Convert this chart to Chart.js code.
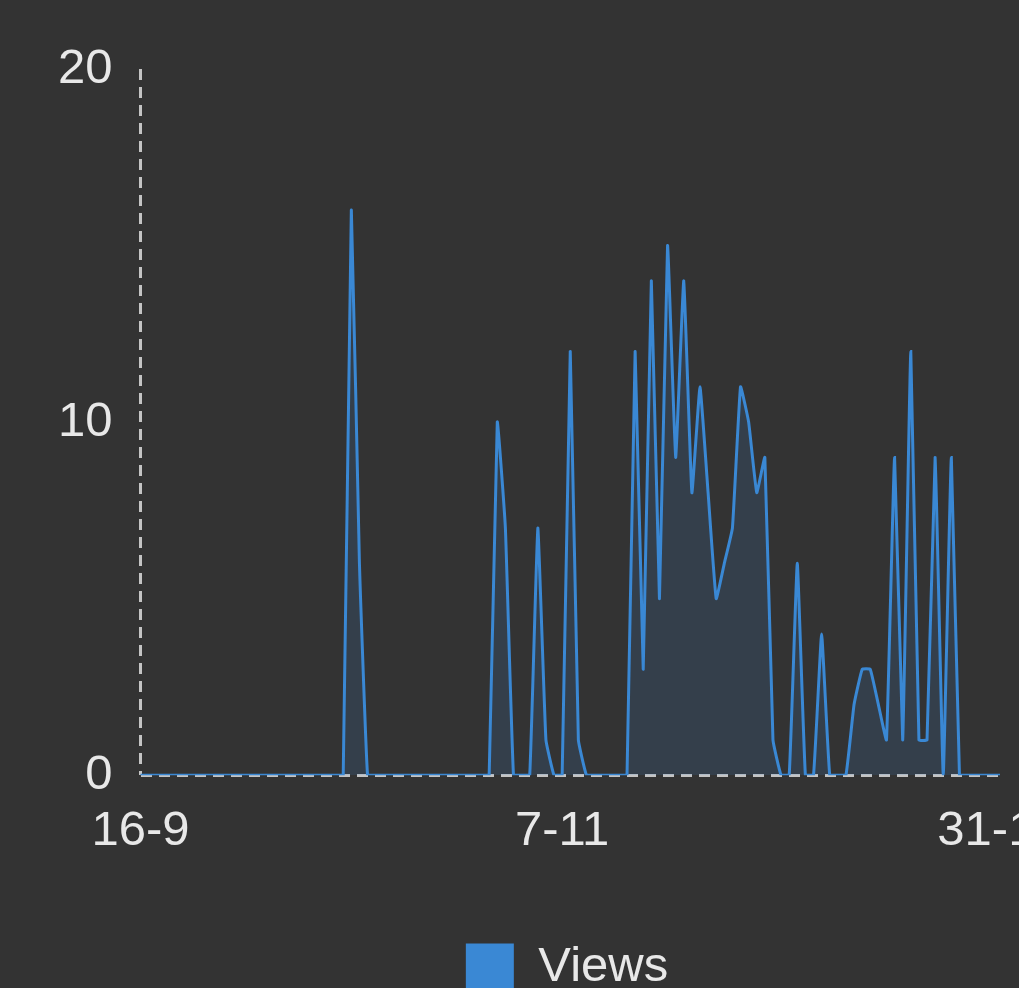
<!DOCTYPE html>
<html>
<head>
<meta charset="utf-8">
<script src="https://cdn.jsdelivr.net/npm/chart.js@4.4.1/dist/chart.umd.min.js"></script>
<style>
  html, body { margin: 0; padding: 0; background: #333333; overflow: hidden; }
</style>
</head>
<body>
<canvas id="chart" width="1156" height="1005"></canvas>
<script>
// day labels, 16-9 .. 31-12
const days = [
  '16-9','17-9','18-9','19-9','20-9','21-9','22-9','23-9','24-9','25-9','26-9','27-9','28-9','29-9','30-9',
  '1-10','2-10','3-10','4-10','5-10','6-10','7-10','8-10','9-10','10-10','11-10','12-10','13-10','14-10','15-10',
  '16-10','17-10','18-10','19-10','20-10','21-10','22-10','23-10','24-10','25-10','26-10','27-10','28-10','29-10','30-10','31-10',
  '1-11','2-11','3-11','4-11','5-11','6-11','7-11','8-11','9-11','10-11','11-11','12-11','13-11','14-11','15-11',
  '16-11','17-11','18-11','19-11','20-11','21-11','22-11','23-11','24-11','25-11','26-11','27-11','28-11','29-11','30-11',
  '1-12','2-12','3-12','4-12','5-12','6-12','7-12','8-12','9-12','10-12','11-12','12-12','13-12','14-12','15-12',
  '16-12','17-12','18-12','19-12','20-12','21-12','22-12','23-12','24-12','25-12','26-12','27-12','28-12','29-12','30-12','31-12'
];

const views = [
  0, 0, 0, 0, 0, 0, 0, 0, 0, 0, 0, 0, 0, 0, 0,
  0, 0, 0, 0, 0, 0, 0, 0, 0, 0, 0, 16, 6, 0, 0,
  0, 0, 0, 0, 0, 0, 0, 0, 0, 0, 0, 0, 0, 0, 10, 7,
  0, 0, 0, 7, 1, 0, 0, 12, 1, 0, 0, 0, 0, 0, 0,
  12, 3, 14, 5, 15, 9, 14, 8, 11, 8, 5, 6, 7, 11, 10,
  8, 9, 1, 0, 0, 6, 0, 0, 4, 0, 0, 0, 2, 3, 3,
  2, 1, 9, 1, 12, 1, 1, 9, 0, 9, 0, 0, 0, 0, 0, 0
];

const tickLabels = ['16-9', '7-11', '31-12'];
const yTicks = [0, 10, 20];

const lineColor = '#3a88d4';
const textColor = '#e8e8e8';
const axisColor = '#c4c4c4';
const font = { family: '"Liberation Sans", Arial, sans-serif', size: 49 };
const dash = [11, 7];

const ctx = document.getElementById('chart').getContext('2d');
new Chart(ctx, {
  type: 'line',
  data: {
    labels: days,
    datasets: [{
      label: 'Views',
      data: views,
      borderColor: lineColor,
      backgroundColor: 'rgba(58, 136, 212, 0.15)',
      borderWidth: 3,
      pointRadius: 0,
      tension: 0.1,
      fill: 'origin'
    }]
  },
  options: {
    responsive: false,
    animation: false,
    layout: { padding: { left: 30, right: 52, top: 69, bottom: 3 } },
    plugins: {
      tooltip: { enabled: false },
      legend: {
        position: 'bottom',
        labels: {
          color: textColor,
          font: font,
          boxWidth: 48,
          boxHeight: 48,
          padding: 55,
          generateLabels(chart) {
            const items = Chart.defaults.plugins.legend.labels.generateLabels(chart);
            items.forEach(it => { it.fillStyle = lineColor; it.lineWidth = 0; });
            return items;
          }
        }
      }
    },
    scales: {
      x: {
        // room on the right for the last date, which runs off the picture
        // (the layout's right padding is taken off this value)
        afterFit(scale) { scale.paddingRight = 156; },
        // only the first vertical grid line is kept: it acts as the dashed y axis
        grid: {
          display: true,
          drawTicks: false,
          lineWidth: 3,
          color: c => (c.index === 0 ? axisColor : 'transparent')
        },
        border: { display: false, dash: dash },
        ticks: {
          autoSkip: false,
          maxRotation: 0,
          minRotation: 0,
          padding: 27,
          color: textColor,
          font: font,
          callback(value) {
            const l = this.getLabelForValue(value);
            return tickLabels.includes(l) ? l : '';
          }
        }
      },
      y: {
        min: yTicks[0],
        max: yTicks[yTicks.length - 1],
        afterBuildTicks(scale) { scale.ticks = yTicks.map(v => ({ value: v })); },
        // only the zero line is kept: dashed x axis
        grid: {
          display: true,
          drawTicks: false,
          lineWidth: 3,
          color: c => (c.tick && c.tick.value === 0 ? axisColor : 'transparent')
        },
        border: { display: false, dash: dash },
        ticks: { padding: 28, color: textColor, font: font }
      }
    }
  }
});
</script>
</body>
</html>
